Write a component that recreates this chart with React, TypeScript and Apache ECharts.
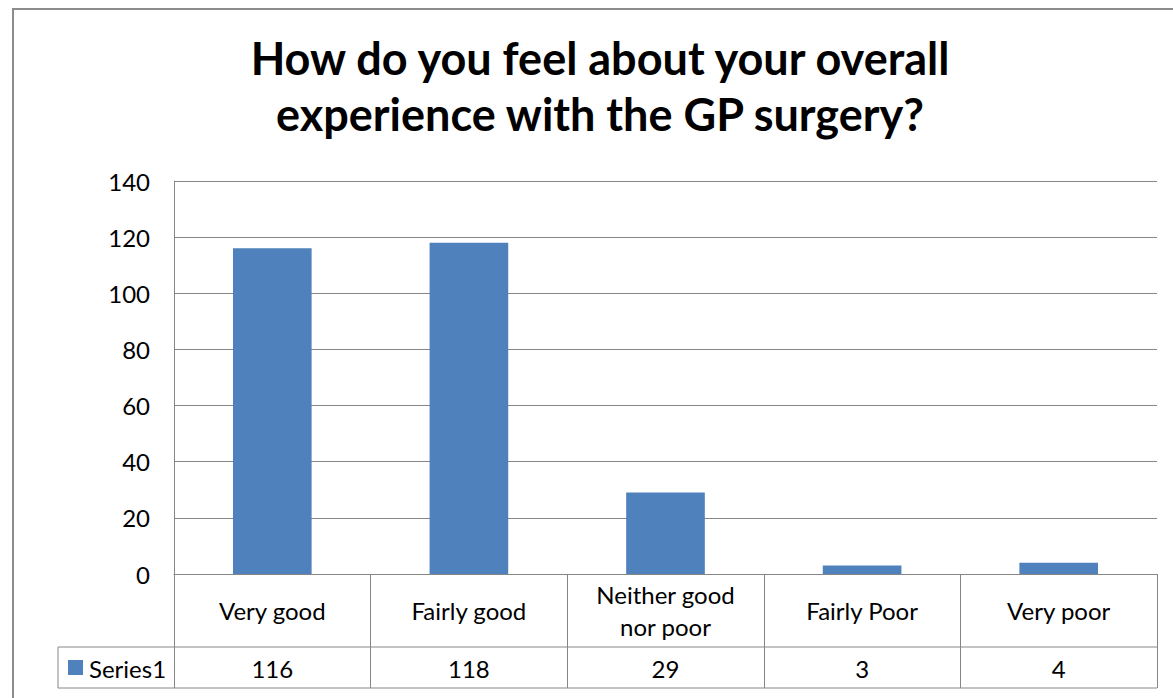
import React, { useEffect, useRef } from "react";
import * as echarts from "echarts";

const titleText = "How do you feel about your overall\nexperience with the GP surgery?";
const categories = ["Very good", "Fairly good", "Neither good\nnor poor", "Fairly Poor", "Very poor"];
const seriesName = "Series1";
const values = [116, 118, 29, 3, 4];
const yMin = 0;
const yMax = 140;
const yStep = 20;

const FONT = "Lato, 'Open Sans', sans-serif";
const GRAY = "#868686";
const BLUE = "#4F81BD";

export default function App() {
  const ref = useRef<HTMLDivElement>(null);
  useEffect(() => {
    if (!ref.current) return;
    const chart = echarts.init(ref.current, undefined, { renderer: "svg" });
    const gridLeft = 174;
    const gridRight = 16;
    const gridTop = 181;
    const gridBottom = 124;
    const axisY = 698 - gridBottom; // 574
    const row2Y = axisY + 73; // 647
    const row3Y = row2Y + 41; // 688
    const plotRight = 1173 - gridRight;
    chart.setOption({
      animation: false,
      backgroundColor: "#ffffff",
      title: {
        text: titleText,
        left: 595,
        top: 25,
        textAlign: "center",
        textStyle: {
          fontFamily: FONT,
          fontWeight: "bold",
          fontSize: 45,
          lineHeight: 56,
          color: "#000000",
        },
      },
      grid: { left: gridLeft, right: gridRight, top: gridTop, bottom: gridBottom, containLabel: false },
      xAxis: [
        {
          type: "category",
          data: categories,
          position: "bottom",
          axisLine: { show: true, lineStyle: { color: GRAY, width: 1 } },
          axisTick: { show: true, length: row3Y - axisY, interval: 0, lineStyle: { color: GRAY, width: 1 } },
          axisLabel: {
            interval: 0,
            margin: 36,
            verticalAlign: "middle",
            fontFamily: FONT,
            fontSize: 24,
            lineHeight: 32,
            color: "#000000",
          },
        },
        {
          type: "category",
          data: categories,
          position: "bottom",
          offset: row2Y - axisY,
          axisLine: { show: false },
          axisTick: { show: false },
          axisLabel: {
            interval: 0,
            margin: 21,
            verticalAlign: "middle",
            fontFamily: FONT,
            fontSize: 24,
            color: "#000000",
            formatter: (_v: string, i: number) => String(values[i]),
          },
        },
      ],
      yAxis: {
        type: "value",
        min: yMin,
        max: yMax,
        interval: yStep,
        axisLine: { show: true, lineStyle: { color: GRAY, width: 1 } },
        axisTick: { show: false },
        splitLine: { show: true, lineStyle: { color: GRAY, width: 1 } },
        axisLabel: { margin: 24, fontFamily: FONT, fontSize: 24, color: "#000000" },
      },
      series: [
        {
          name: seriesName,
          type: "bar",
          data: values,
          xAxisIndex: 0,
          barWidth: "40%",
          itemStyle: { color: BLUE },
        },
      ],
      graphic: [
        {
          type: "rect",
          shape: { x: 13, y: 9, width: 1220, height: 760 },
          style: { fill: "none", stroke: "#8c8c8c", lineWidth: 2 },
          silent: true,
        },
        {
          type: "line",
          shape: { x1: 58, y1: row2Y, x2: plotRight, y2: row2Y },
          style: { stroke: GRAY, lineWidth: 1 },
        },
        {
          type: "line",
          shape: { x1: 58, y1: row3Y, x2: plotRight, y2: row3Y },
          style: { stroke: GRAY, lineWidth: 1 },
        },
        {
          type: "line",
          shape: { x1: 58, y1: row2Y, x2: 58, y2: row3Y },
          style: { stroke: GRAY, lineWidth: 1 },
        },
        {
          type: "rect",
          shape: { x: 68, y: 660, width: 15, height: 15 },
          style: { fill: BLUE },
        },
        {
          type: "text",
          x: 89,
          y: 668,
          style: {
            text: seriesName,
            fontFamily: FONT,
            fontSize: 24,
            fill: "#000000",
            verticalAlign: "middle",
            align: "left",
          },
        },
      ],
    });
    return () => chart.dispose();
  }, []);
  return (
    <div
      ref={ref}
      style={{ position: "fixed", left: 0, top: 0, width: 1173, height: 698 }}
    />
  );
}
